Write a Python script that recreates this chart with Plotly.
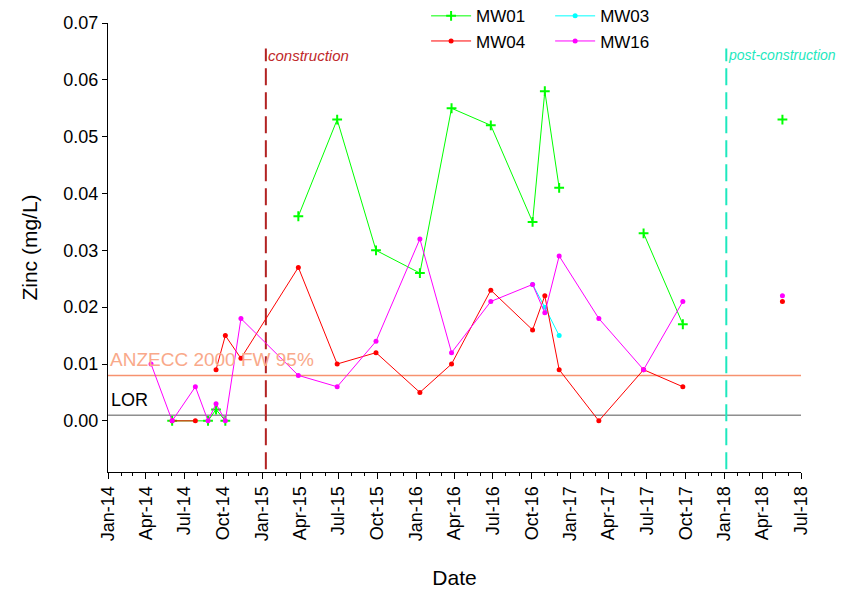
import plotly.graph_objects as go

# ---- data ----
mw01_dates = ["2014-06-02", "2014-08-26", "2014-09-14", "2014-10-06", "2014-11-12",
              "2015-03-28", "2015-06-28", "2015-09-28", "2016-01-10", "2016-03-25",
              "2016-06-26", "2016-10-03", "2016-11-01", "2016-12-05", "2017-03-09",
              "2017-06-23", "2017-09-24", "2018-01-15", "2018-05-18"]
mw01_vals = [0.000, 0.000, 0.002, 0.000, None,
             0.036, 0.053, 0.030, 0.026, 0.055,
             0.052, 0.035, 0.058, 0.041, None,
             0.033, 0.017, None, 0.053]

mw03_dates = ["2016-10-03", "2016-11-01", "2016-12-05"]
mw03_vals = [0.024, 0.020, 0.015]

mw04_dates = ["2014-06-02", "2014-07-27", "2014-08-26", "2014-09-14", "2014-10-06",
              "2014-11-12", "2015-03-28", "2015-06-28", "2015-09-28", "2016-01-10",
              "2016-03-25", "2016-06-26", "2016-10-03", "2016-11-01", "2016-12-05",
              "2017-03-09", "2017-06-23", "2017-09-24", "2018-01-15", "2018-05-18"]
mw04_vals = [0.000, 0.000, None, 0.009, 0.015,
             0.011, 0.027, 0.010, 0.012, 0.005,
             0.010, 0.023, 0.016, 0.022, 0.009,
             0.000, 0.009, 0.006, None, 0.021]

mw16_dates = ["2014-04-13", "2014-06-02", "2014-07-27", "2014-08-26", "2014-09-14",
              "2014-10-06", "2014-11-12", "2015-03-28", "2015-06-28", "2015-09-28",
              "2016-01-10", "2016-03-25", "2016-06-26", "2016-10-03", "2016-11-01",
              "2016-12-05", "2017-03-09", "2017-06-23", "2017-09-24", "2018-01-15",
              "2018-05-18"]
mw16_vals = [0.010, 0.000, 0.006, 0.000, 0.003,
             0.000, 0.018, 0.008, 0.006, 0.014,
             0.032, 0.012, 0.021, 0.024, 0.019,
             0.029, 0.018, 0.009, 0.021, None,
             0.022]

anzecc_value = 0.008
lor_value = 0.001
construction_date = "2015-01-10"
post_construction_date = "2018-01-05"

FONT = "Liberation Sans, Arial, sans-serif"

fig = go.Figure()

fig.add_trace(go.Scatter(
    x=mw01_dates, y=mw01_vals, name="MW01", mode="lines+markers",
    line=dict(color="#00FF00", width=1),
    marker=dict(symbol="cross-thin", size=7, line=dict(color="#00FF00", width=2), color="#00FF00"),
    connectgaps=False, legend="legend"))
fig.add_trace(go.Scatter(
    x=mw03_dates, y=mw03_vals, name="MW03", mode="lines+markers",
    line=dict(color="#00FFFF", width=1),
    marker=dict(symbol="circle", size=5, color="#00FFFF"),
    connectgaps=False, legend="legend2"))
fig.add_trace(go.Scatter(
    x=mw04_dates, y=mw04_vals, name="MW04", mode="lines+markers",
    line=dict(color="#FF0000", width=1),
    marker=dict(symbol="circle", size=5, color="#FF0000"),
    connectgaps=False, legend="legend"))
fig.add_trace(go.Scatter(
    x=mw16_dates, y=mw16_vals, name="MW16", mode="lines+markers",
    line=dict(color="#FF00FF", width=1),
    marker=dict(symbol="circle", size=5, color="#FF00FF"),
    connectgaps=False, legend="legend2"))

shapes = [
    dict(type="line", xref="paper", x0=0, x1=1, yref="y", y0=anzecc_value, y1=anzecc_value,
         line=dict(color="#F7926F", width=1.5), layer="below"),
    dict(type="line", xref="paper", x0=0, x1=1, yref="y", y0=lor_value, y1=lor_value,
         line=dict(color="#555555", width=1), layer="below"),
    dict(type="line", xref="x", x0=construction_date, x1=construction_date, yref="y",
         y0=-0.0085, y1=0.0655, line=dict(color="#B22222", width=2, dash="17px,7px"), layer="below"),
    dict(type="line", xref="x", x0=post_construction_date, x1=post_construction_date, yref="y",
         y0=-0.0085, y1=0.0655, line=dict(color="#1EE8BE", width=2, dash="17px,7px"), layer="below"),
]

annotations = [
    dict(x=construction_date, y=0.0643, xref="x", yref="y", text="construction",
         showarrow=False, xanchor="left", yanchor="middle", xshift=0,
         font=dict(family=FONT, size=15, color="#C0282A", style="italic")),
    dict(x=post_construction_date, y=0.0643, xref="x", yref="y", text="post-construction",
         showarrow=False, xanchor="left", yanchor="middle", xshift=0,
         font=dict(family=FONT, size=14, color="#1EE8BE", style="italic")),
    dict(x=0, y=0.0108, xref="paper", yref="y", text="ANZECC 2000 FW 95%",
         showarrow=False, xanchor="left", yanchor="middle", xshift=0,
         font=dict(family=FONT, size=19, color="#F9A98A")),
    dict(x=0, y=0.0036, xref="paper", yref="y", text="LOR",
         showarrow=False, xanchor="left", yanchor="middle", xshift=1,
         font=dict(family=FONT, size=18, color="#000000")),
]

fig.update_layout(
    width=846, height=593,
    margin=dict(l=100, r=53, t=15, b=129, autoexpand=False),
    plot_bgcolor="white", paper_bgcolor="white",
    font=dict(family=FONT, size=18, color="black"),
    shapes=shapes, annotations=annotations,
    showlegend=True,
    legend=dict(x=0.459, y=1.055, xanchor="left", yanchor="top", orientation="v",
                bgcolor="rgba(0,0,0,0)", font=dict(size=17), tracegroupgap=0,
                itemwidth=40),
    legend2=dict(x=0.638, y=1.055, xanchor="left", yanchor="top", orientation="v",
                 bgcolor="rgba(0,0,0,0)", font=dict(size=17), tracegroupgap=0,
                 itemwidth=40),
)

fig.update_xaxes(
    type="date", range=["2014-01-01", "2018-07-01"],
    tick0="2014-01-01", dtick="M3", tickformat="%b-%y", tickangle=-90,
    ticks="outside", ticklen=6, tickcolor="black",
    minor=dict(dtick="M1", ticks="outside", ticklen=3, tickcolor="black"),
    showline=True, linecolor="black", linewidth=1, mirror=False,
    showgrid=False, zeroline=False,
    tickfont=dict(size=18),
    title=dict(text="Date", font=dict(size=21), standoff=30),
)
fig.update_yaxes(
    range=[-0.009, 0.07], tick0=0, dtick=0.01, tickformat=".2f",
    ticks="outside", ticklen=5, tickcolor="black",
    showline=True, linecolor="black", linewidth=1, mirror=False,
    showgrid=False, zeroline=False,
    tickfont=dict(size=18),
    title=dict(text="Zinc (mg/L)", font=dict(size=21), standoff=20),
)

fig.write_html("out.html")
